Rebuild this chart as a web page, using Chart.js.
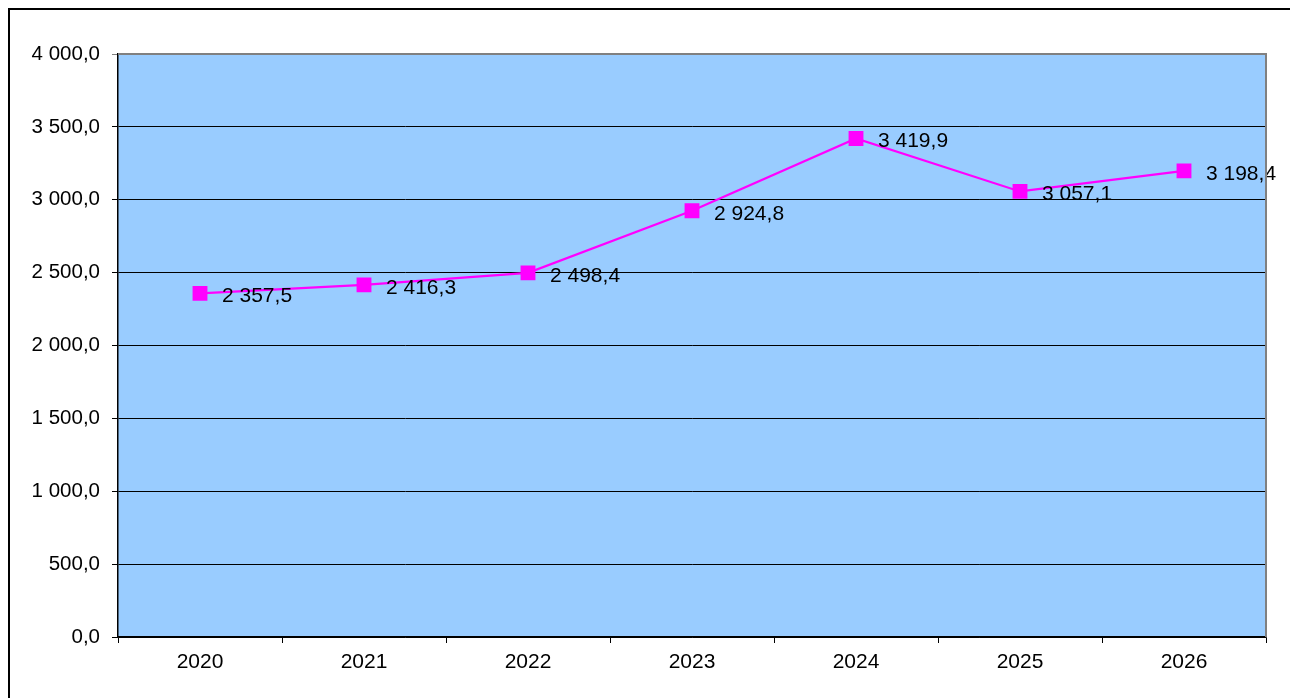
<!DOCTYPE html>
<html>
<head>
<meta charset="utf-8">
<script src="https://cdn.jsdelivr.net/npm/chart.js@4"></script>
<style>
  html, body { margin: 0; padding: 0; background: #fff; }
  body { width: 1290px; height: 698px; position: relative; overflow: hidden; }
  #frame {
    position: absolute; left: 8px; top: 8px; width: 1300px; height: 720px;
    border-top: 2px solid #000; border-left: 2px solid #000;
  }
  #chart { position: absolute; left: 0; top: 0; }
</style>
</head>
<body>
<div id="frame"></div>
<canvas id="chart" width="1290" height="698"></canvas>
<script>
// данные графика
const years = ['2020', '2021', '2022', '2023', '2024', '2025', '2026'];
const values = [2357.5, 2416.3, 2498.4, 2924.8, 3419.9, 3057.1, 3198.4];
const yMin = 0;
const yMax = 4000;
const yStep = 500;

// 2357.5 -> "2 357,5"
function fmt(v) {
    const parts = v.toFixed(1).split('.');
    const intPart = parts[0].replace(/\B(?=(\d{3})+(?!\d))/g, ' ');
    return intPart + ',' + parts[1];
}

const FONT = "'Liberation Sans', Arial, sans-serif";

// фон области построения и серая рамка
const plotArea = {
    id: 'plotArea',
    beforeDraw(chart) {
        const a = chart.chartArea;
        const ctx = chart.ctx;
        ctx.save();
        ctx.fillStyle = '#99CCFF';
        ctx.fillRect(a.left, a.top, a.right - a.left, a.bottom - a.top);
        ctx.restore();
    },
    afterDraw(chart) {
        const a = chart.chartArea;
        const ctx = chart.ctx;
        ctx.save();
        ctx.strokeStyle = '#808080';
        ctx.lineWidth = 2;
        ctx.beginPath();
        ctx.moveTo(a.left, a.top);
        ctx.lineTo(a.right, a.top);
        ctx.lineTo(a.right, a.bottom);
        ctx.stroke();
        ctx.restore();
    }
};

// подписи значений справа от точек
const valueLabels = {
    id: 'valueLabels',
    afterDatasetsDraw(chart) {
        const ctx = chart.ctx;
        const meta = chart.getDatasetMeta(0);
        ctx.save();
        ctx.font = '21px ' + FONT;
        ctx.fillStyle = '#000';
        ctx.textAlign = 'left';
        ctx.textBaseline = 'middle';
        meta.data.forEach((pt, i) => {
            ctx.fillText(fmt(values[i]), pt.x + 22, pt.y + 3);
        });
        ctx.restore();
    }
};

const ctx = document.getElementById('chart').getContext('2d');
new Chart(ctx, {
    type: 'line',
    data: {
        labels: years,
        datasets: [{
            data: values,
            borderColor: '#FF00FF',
            backgroundColor: '#FF00FF',
            borderWidth: 2.2,
            pointStyle: 'rect',
            pointRadius: 10.5,
            pointBorderWidth: 0,
            tension: 0,
            fill: false
        }]
    },
    options: {
        responsive: false,
        animation: false,
        devicePixelRatio: 1,
        layout: { padding: { top: 54, right: 24, left: 0, bottom: 0 } },
        plugins: {
            legend: { display: false },
            tooltip: { enabled: false }
        },
        scales: {
            x: {
                offset: true,
                grid: {
                    offset: true,
                    drawOnChartArea: false,
                    drawTicks: true,
                    tickLength: 6,
                    color: '#000'
                },
                border: { color: '#000', width: 1.5 },
                ticks: {
                    color: '#000',
                    font: { family: FONT, size: 21 },
                    padding: 7,
                    maxRotation: 0
                },
                afterFit(scale) { scale.height = 61; }
            },
            y: {
                min: yMin,
                max: yMax,
                grid: {
                    color: (c) => c.tick && c.tick.value === yMax ? '#808080' : '#000',
                    lineWidth: 1,
                    tickLength: 6,
                    drawTicks: true
                },
                border: { color: '#000', width: 1.5 },
                ticks: {
                    stepSize: yStep,
                    color: '#000',
                    font: { family: FONT, size: 20.5 },
                    padding: 12,
                    callback: (v) => fmt(v)
                },
                afterFit(scale) { scale.width = 118; }
            }
        }
    },
    plugins: [plotArea, valueLabels]
});
</script>
</body>
</html>
